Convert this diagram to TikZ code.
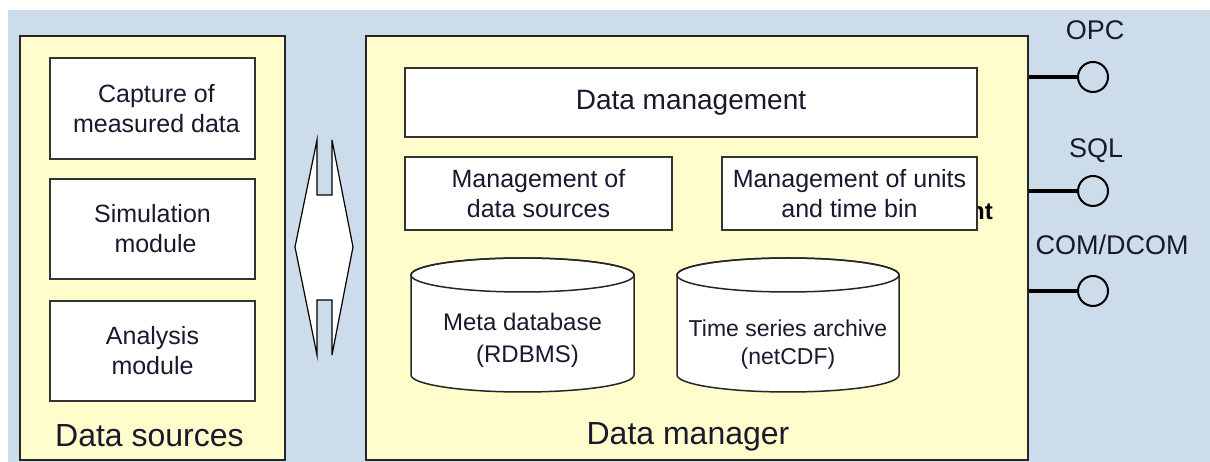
\documentclass[tikz,border=0pt]{standalone}
\usepackage{fontspec}
\setmainfont{Liberation Sans}
\definecolor{bgblue}{RGB}{205,220,235}
\definecolor{pale}{RGB}{255,253,204}
\definecolor{ink}{RGB}{25,25,45}
\begin{document}
\begin{tikzpicture}[x=1pt,y=1pt,
  outer/.style={draw=black!85,line width=2pt,fill=pale,inner sep=0pt},
  box/.style={draw=black!80,line width=2pt,fill=white,inner sep=0pt,align=center,text=ink,
    font=\fontsize{25}{30}\selectfont},
  lbl/.style={text=ink,inner sep=0pt,font=\fontsize{23}{29}\selectfont,align=center},
  portlbl/.style={text=ink,inner sep=0pt,font=\fontsize{27}{30}\selectfont},
  biglbl/.style={text=ink,inner sep=0pt,font=\fontsize{32}{36}\selectfont},
  cyl/.style={draw=black!85,line width=1.5pt,fill=white},
  port/.style={circle,draw=black,line width=2pt,minimum size=30pt,inner sep=0pt},
  conn/.style={line width=4pt,black}]
\useasboundingbox (0,0) rectangle (1210,462);
\fill[white] (0,0) rectangle (1210,462);
\fill[bgblue] (8,0) rectangle (1210,452);
% Data sources
\node[outer,minimum width=265pt,minimum height=424pt] (src) at (152.5,214) {};
\node[box,minimum width=205pt,minimum height=101pt] (cap) at (152.5,353) {\hspace*{8pt}Capture of\\\hspace*{8pt}measured data};
\node[box,minimum width=205pt,minimum height=100pt] (sim) at (152.5,233) {Simulation\\\hspace*{6pt}module};
\node[box,minimum width=205pt,minimum height=100pt] (ana) at (152.5,111) {Analysis\\module};
\node[biglbl,anchor=west] (srclbl) at (55,26) {Data sources};
% double arrow
\filldraw[fill=white,draw=black,line width=1.2pt,line join=miter]
  (317,322) -- (295,215) -- (317,107) -- (317,162) -- (332,162) -- (332,107)
  -- (353,215) -- (332,322) -- (332,267) -- (317,267) -- cycle;
% Data manager
\node[outer,minimum width=662pt,minimum height=424pt] (dman) at (697,214) {};
\node[box,minimum width=572pt,minimum height=69pt,font=\fontsize{28}{32}\selectfont] (dmg) at (691,359.5) {Data management};
\node[box,minimum width=267pt,minimum height=73pt] (mds) at (538.5,268.5) {Management of\\data sources};
\node[text=black,inner sep=0pt,anchor=west,font=\fontsize{24}{29}\selectfont\bfseries] (nt) at (970,250) {nt};
\node[box,minimum width=255pt,minimum height=73pt] (mut) at (849.5,268.5) {Management of units\\and time bin};
% cylinders
\filldraw[cyl] (411,187) -- (411,87) arc[start angle=180,end angle=360,x radius=111.5,y radius=17]
  -- (634,187) arc[start angle=0,end angle=180,x radius=111.5,y radius=17] -- cycle;
\draw[cyl,fill=none] (522.5,187) ellipse[x radius=111.5,y radius=17];
\node[lbl,font=\fontsize{24}{32}\selectfont] (meta) at (522.5,122) {Meta database\\\hspace*{10pt}(RDBMS)};
\filldraw[cyl] (677,187) -- (677,87) arc[start angle=180,end angle=360,x radius=111,y radius=17]
  -- (899,187) arc[start angle=0,end angle=180,x radius=111,y radius=17] -- cycle;
\draw[cyl,fill=none] (788,187) ellipse[x radius=111,y radius=17];
\node[lbl,font=\fontsize{23}{28}\selectfont] (tsa) at (788,117) {Time series archive\\(netCDF)};
\node[biglbl] (dmanlbl) at (688,25) {Data manager};
% ports
\node[port] (opc) at (1093,385) {};
\node[port] (sql) at (1093,271) {};
\node[port] (com) at (1093,171) {};
\draw[conn] (dman.east |- opc) -- (opc.west);
\draw[conn] (dman.east |- sql) -- (sql.west);
\draw[conn] (dman.east |- com) -- (com.west);
\node[portlbl] (opclbl) at (1095,432) {OPC};
\node[portlbl] (sqllbl) at (1096,311) {SQL};
\node[portlbl] (comlbl) at (1112,217) {COM/DCOM};
\end{tikzpicture}
\end{document}
